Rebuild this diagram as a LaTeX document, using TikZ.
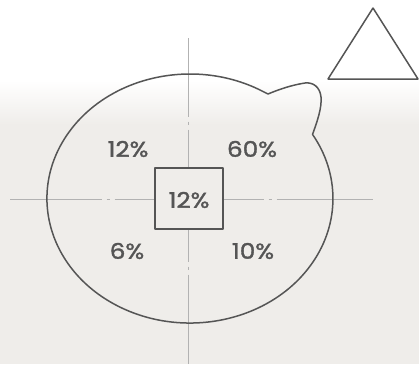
\documentclass[tikz,border=0pt]{standalone}
\usepackage{fontspec}
\newfontfamily\pctfont{Poppins}[FakeBold=1.6,FakeStretch=1.15]
\definecolor{bg}{RGB}{239,237,234}
\definecolor{ink}{RGB}{85,85,85}
\begin{document}
\begin{tikzpicture}[x=1pt,y=-1pt,
  outline/.style={draw=ink,line width=1.5pt,line join=round},
  axis/.style={draw=black!30,line width=0.9pt},
  pct/.style={text=ink,font=\pctfont\fontsize{21.5}{22}\selectfont,inner sep=0pt}]
\useasboundingbox (0,0) rectangle (419,364);
\fill[bg] (0,0) rectangle (419,364);
\fill[white] (0,0) rectangle (419,80);
\shade[top color=white,bottom color=bg] (0,80) rectangle (419,125);
% axes
\coordinate (hl) at (10,199);
\coordinate (hr) at (373,199);
\coordinate (vt) at (188,38);
\coordinate (vb) at (188,364);
\draw[axis,dash pattern=on 149pt off 5pt on 3pt off 5pt,dash phase=57.5pt] (hl) -- (hr);
\draw[axis,dash pattern=on 132pt off 5pt on 3pt off 5pt,dash phase=53.5pt] (vt) -- (vb);
% blob
\coordinate (bs) at (263.6,91.8);
\draw[outline] (bs) arc[start angle=59,end angle=391,x radius=143pt,y radius=124.5pt]
  .. controls (317,122) and (322,108) .. (321,97)
  .. controls (320,87) and (313,82) .. (305,83)
  .. controls (292,85) and (280,89) .. (268,94) -- cycle;
% triangle
\coordinate (ta) at (373,8);
\coordinate (tb) at (328,79);
\coordinate (tc) at (418,79);
\draw[outline,fill=white] (ta) -- (tb) -- (tc) -- cycle;
% center box
\node[outline,fill=bg,minimum width=68pt,minimum height=61pt,inner sep=0pt] (box) at (189,198.5) {};
\node[pct] (c) at (189,200) {12\%};
\node[pct] (q1) at (128,149) {12\%};
\node[pct] (q2) at (252,149) {60\%};
\node[pct] (q3) at (127,251) {6\%};
\node[pct] (q4) at (253,251) {10\%};
\end{tikzpicture}
\end{document}
